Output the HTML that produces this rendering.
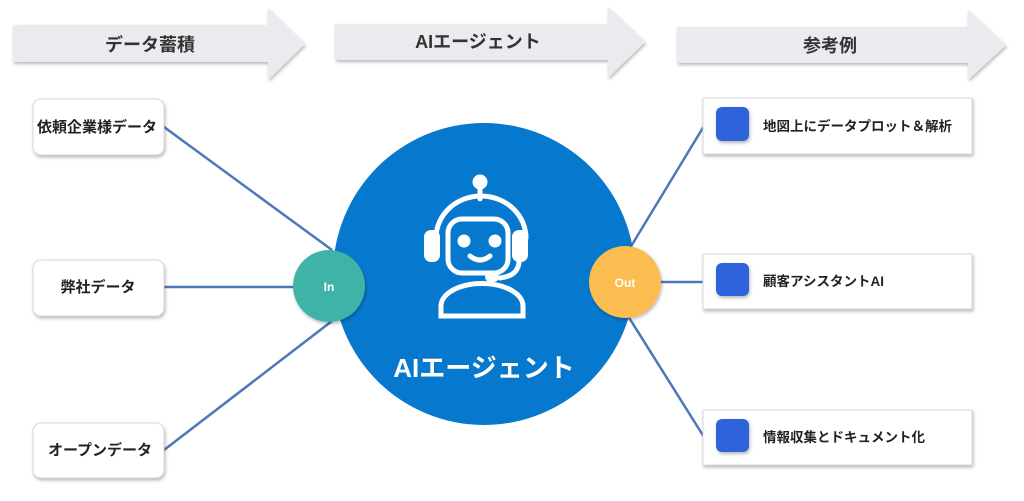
<!DOCTYPE html>
<html><head><meta charset="utf-8"><style>
body{margin:0;width:1024px;height:501px;background:#fff;overflow:hidden;font-family:"Liberation Sans","Noto Sans CJK JP",sans-serif}
</style></head><body>
<svg width="1024" height="501" viewBox="0 0 1024 501" xmlns="http://www.w3.org/2000/svg" style="position:absolute;left:0;top:0">
<defs>
<filter id="sh" x="-10%" y="-20%" width="130%" height="150%"><feDropShadow dx="1" dy="2" stdDeviation="1.5" flood-color="#000" flood-opacity="0.28"/></filter>
</defs>
<g fill="#e9ebee" filter="url(#sh)">
<polygon points="13,25 268,25 268,8 305,44 268,80 268,62 13,62"/>
<polygon points="335,24 608,24 608,7 645,42 608,78 608,60 335,60"/>
<polygon points="677,27 968,27 968,10 1006,45 968,80 968,63 677,63"/>
</g>
<g font-size="18" font-weight="bold" fill="#333" text-anchor="middle">
<text x="150" y="51">データ蓄積</text>
<text x="478" y="48">AIエージェント</text>
<text x="830" y="52">参考例</text>
</g>
<g stroke="#4a78b8" stroke-width="2.5">
<line x1="164" y1="127" x2="332" y2="250"/>
<line x1="164" y1="287" x2="300" y2="287"/>
<line x1="164" y1="450" x2="332" y2="321"/>
<line x1="630" y1="248" x2="704" y2="126"/>
<line x1="655" y1="282" x2="704" y2="282"/>
<line x1="628" y1="316" x2="704" y2="437"/>
</g>
<g fill="#fff" stroke="#d8d8d8" filter="url(#sh)">
<rect x="33" y="99" width="131" height="56" rx="8"/>
<rect x="33" y="260" width="131" height="56" rx="8"/>
<rect x="33" y="423" width="131" height="55" rx="8"/>
<rect x="703" y="98" width="269" height="56"/>
<rect x="703" y="254" width="269" height="55"/>
<rect x="703" y="410" width="269" height="55"/>
</g>
<g font-size="15" font-weight="bold" fill="#222">
<text x="37" y="132">依頼企業様データ</text>
<text x="98" y="292" text-anchor="middle">弊社データ</text>
<text x="100" y="455" text-anchor="middle">オープンデータ</text>
</g>
<g fill="#2f63dc" filter="url(#sh)">
<rect x="716" y="107" width="33" height="34" rx="6"/>
<rect x="716" y="263" width="33" height="33" rx="6"/>
<rect x="716" y="419" width="33" height="33" rx="6"/>
</g>
<g font-size="13.5" font-weight="bold" fill="#222">
<text x="763" y="131">地図上にデータプロット＆解析</text>
<text x="763" y="286">顧客アシスタントAI</text>
<text x="763" y="442">情報収集とドキュメント化</text>
</g>
<circle cx="484" cy="274" r="151" fill="#0679cf"/>
<g fill="none" stroke="#fff" stroke-width="5" stroke-linecap="round">
<line x1="480" y1="185" x2="480" y2="199"/>
<path d="M436,238 A45,42 0 0 1 526,238"/>
<rect x="448" y="219" width="60" height="54" rx="14"/>
<path d="M470,256 Q480,264 490,256"/>
<path d="M519,262 Q518,276 500,278"/>
<path d="M441,316 L441,306 A40,22 0 0 1 523,306 L523,316 Z"/>
</g>
<circle cx="480" cy="182" r="7.5" fill="#fff"/>
<rect x="424" y="230" width="16" height="32" rx="7" fill="#fff"/>
<rect x="512" y="230" width="16" height="32" rx="7" fill="#fff"/>
<circle cx="464" cy="241" r="6.5" fill="#fff"/>
<circle cx="495" cy="241" r="6.5" fill="#fff"/>
<rect x="485" y="272" width="14" height="10" rx="5" fill="#fff"/>
<text x="484" y="377" font-size="26" font-weight="bold" fill="#fff" text-anchor="middle">AIエージェント</text>
<circle cx="329" cy="286" r="36" fill="#40b3a8" filter="url(#sh)"/>
<text x="329" y="291" font-size="12" font-weight="bold" fill="#fff" text-anchor="middle">In</text>
<circle cx="625" cy="282" r="36" fill="#fbbd4f" filter="url(#sh)"/>
<text x="625" y="287" font-size="12" font-weight="bold" fill="#fff" text-anchor="middle">Out</text>
</svg>
</body></html>
